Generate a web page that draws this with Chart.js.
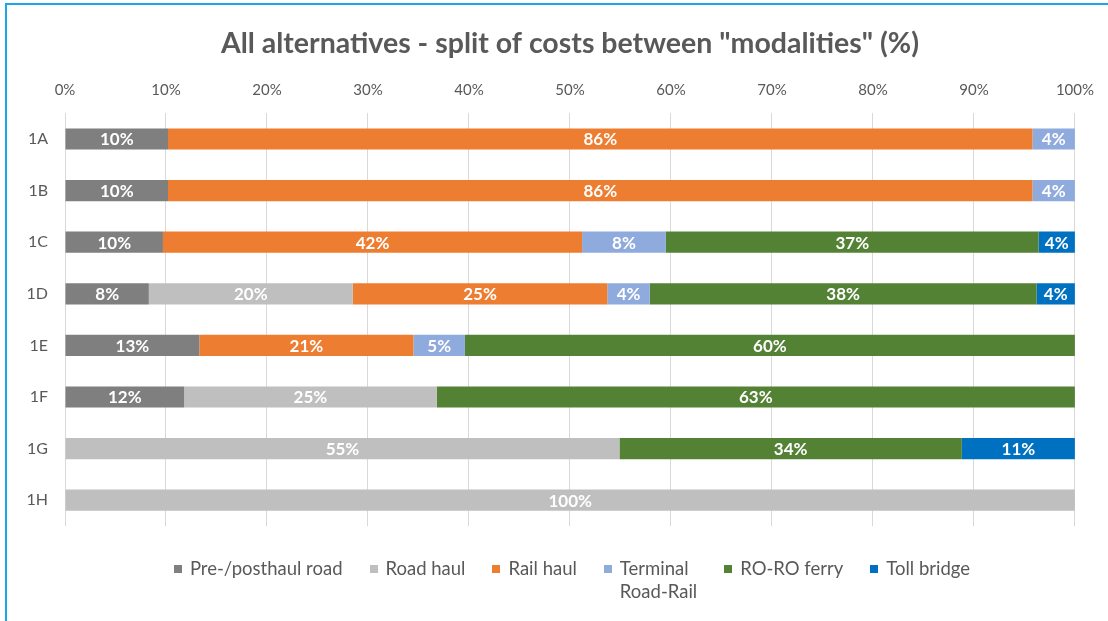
<!DOCTYPE html>
<html>
<head>
<meta charset="utf-8">
<script src="https://cdn.jsdelivr.net/npm/chart.js@4.4.0/dist/chart.umd.min.js"></script>
<style>
  html, body { margin: 0; padding: 0; background: #fff; }
  body { width: 1108px; height: 621px; position: relative; overflow: hidden; font-family: Lato, "Open Sans", sans-serif; }
  #frame { position: absolute; left: 5px; top: 3px; width: 1200px; height: 700px; border-left: 2px solid #1aa7e6; border-top: 2px solid #1aa7e6; box-sizing: border-box; }
  #wrap { position: absolute; left: 0; top: 0; width: 1108px; height: 621px; }
  #legend { position: absolute; left: 18px; top: 557px; width: 1108px; display: flex; justify-content: center; gap: 27px; color: #595959; font-size: 18.5px; line-height: 23px; }
  .item { display: flex; align-items: flex-start; }
  .box { width: 8px; height: 8px; margin: 8px 8px 0 0; flex: none; }
</style>
</head>
<body>
<div id="frame"></div>
<div id="wrap"><canvas id="c" width="1108" height="621"></canvas></div>
<div id="legend"></div>
<script>
// categories and series (percent of total cost per alternative)
const categories = ["1A", "1B", "1C", "1D", "1E", "1F", "1G", "1H"];
const seriesNames = ["Pre-/posthaul road", "Road haul", "Rail haul", "Terminal\nRoad-Rail", "RO-RO ferry", "Toll bridge"];
const seriesColors = ["#7f7f7f", "#bfbfbf", "#ed7d31", "#8faadc", "#548235", "#0070c0"];

const prePosthaul = [10.2, 10.2, 9.7, 8.3, 13.3, 11.8, 0, 0];
const roadHaul    = [0, 0, 0, 20.2, 0, 25.0, 54.9, 100];
const railHaul    = [85.6, 85.6, 41.5, 25.2, 21.2, 0, 0, 0];
const terminal    = [4.2, 4.2, 8.3, 4.2, 5.1, 0, 0, 0];
const roroFerry   = [0, 0, 36.9, 38.3, 60.4, 63.2, 33.9, 0];
const tollBridge  = [0, 0, 3.6, 3.8, 0, 0, 11.2, 0];

const xTicks = [0, 10, 20, 30, 40, 50, 60, 70, 80, 90, 100];

const FONT = 'Lato, "Open Sans", sans-serif';
const TEXT = "#595959";

const seriesData = [prePosthaul, roadHaul, railHaul, terminal, roroFerry, tollBridge];

// value labels drawn in the middle of each segment
const barLabels = {
  id: "barLabels",
  afterDatasetsDraw(chart) {
    const ctx = chart.ctx;
    ctx.save();
    ctx.font = "bold 17px " + FONT;
    ctx.fillStyle = "#ffffff";
    ctx.textAlign = "center";
    ctx.textBaseline = "middle";
    chart.data.datasets.forEach((ds, i) => {
      const meta = chart.getDatasetMeta(i);
      meta.data.forEach((bar, j) => {
        const v = ds.data[j];
        if (!v) return;
        ctx.fillText(Math.round(v) + "%", (bar.x + bar.base) / 2, bar.y + 1);
      });
    });
    ctx.restore();
  },
};

new Chart(document.getElementById("c").getContext("2d"), {
  type: "bar",
  data: {
    labels: categories,
    datasets: seriesData.map((d, i) => ({
      label: seriesNames[i],
      data: d,
      backgroundColor: seriesColors[i],
      borderWidth: 0,
      barPercentage: 0.41,
      categoryPercentage: 1,
    })),
  },
  options: {
    indexAxis: "y",
    responsive: false,
    animation: false,
    layout: { padding: { left: 0, right: 32, top: 0, bottom: 95 } },
    plugins: {
      legend: { display: false },
      tooltip: { enabled: false },
      title: {
        display: true,
        fullSize: false, // centre over the plot area, not the whole canvas
        text: 'All alternatives - split of costs between "modalities" (%)',
        color: TEXT,
        font: { family: FONT, size: 28.5, weight: "bold" },
        padding: { top: 27, bottom: 8 },
      },
    },
    scales: {
      x: {
        position: "top",
        stacked: true,
        min: 0,
        max: 100,
        afterBuildTicks(axis) {
          axis.ticks = xTicks.map((v) => ({ value: v }));
        },
        afterFit(axis) { axis.height = 44; },
        ticks: {
          color: TEXT,
          font: { family: FONT, size: 15 },
          padding: 14,
          callback: (v) => v + "%",
        },
        grid: { color: "#d9d9d9", lineWidth: 1, drawTicks: false },
        border: { display: false },
      },
      y: {
        stacked: true,
        afterFit(axis) { axis.width = 65; },
        ticks: {
          color: TEXT,
          font: { family: FONT, size: 16 },
          padding: 9,
        },
        grid: { display: false },
        border: { display: false },
      },
    },
  },
  plugins: [barLabels],
});

// legend
const legend = document.getElementById("legend");
seriesNames.forEach((name, i) => {
  const item = document.createElement("div");
  item.className = "item";
  const box = document.createElement("span");
  box.className = "box";
  box.style.background = seriesColors[i];
  const txt = document.createElement("span");
  txt.style.whiteSpace = "pre";
  txt.textContent = name;
  item.append(box, txt);
  legend.appendChild(item);
});
</script>
</body>
</html>
